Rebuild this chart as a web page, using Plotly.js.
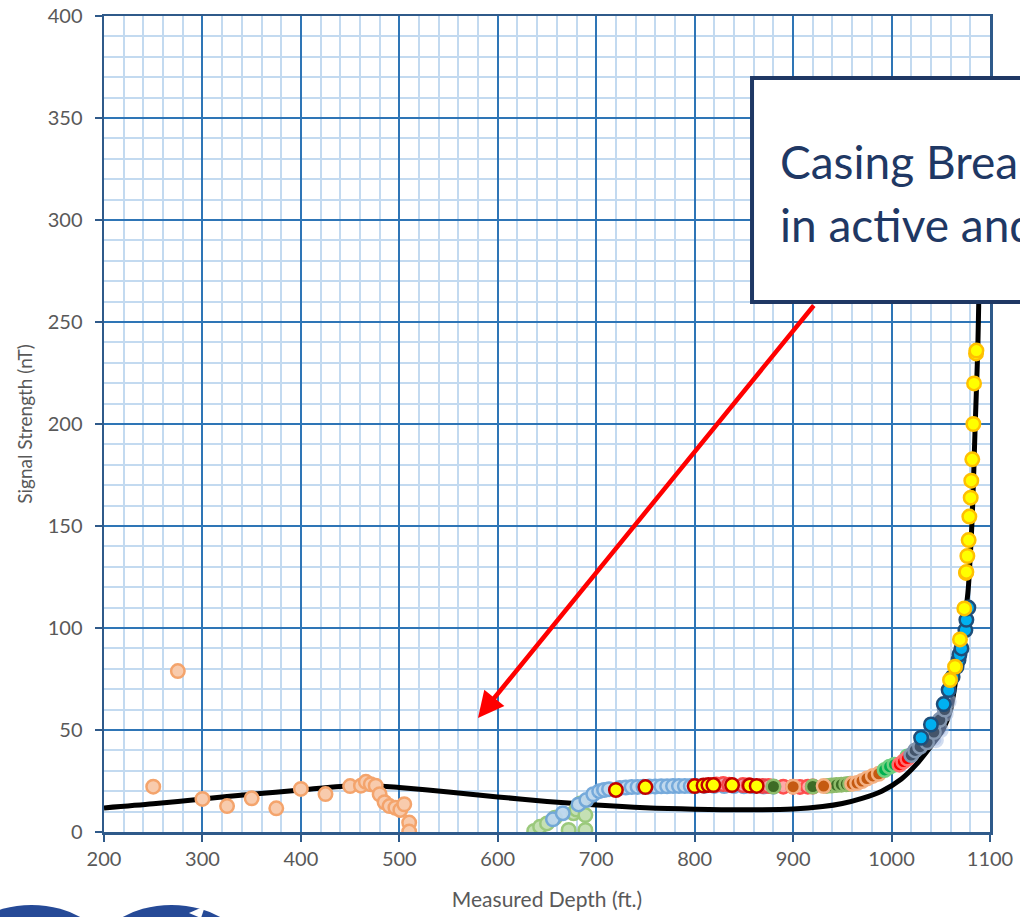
<!DOCTYPE html>
<html>
<head>
<meta charset="utf-8">
<script src="https://cdn.plot.ly/plotly-3.0.1.min.js"></script>
<style>html,body{margin:0;padding:0;background:#fff;}#chart{width:1020px;height:917px;}</style>
</head>
<body>
<div id="chart"></div>
<script>
// Fitted curve
const curveX = [200,250,300,350,400,440,470,500,550,600,650,700,750,800,850,900,930,950,970,990,1010,1025,1040,1052,1060,1068,1073,1077.5,1079,1082,1085,1087.5,1088.5,1090];
const curveY = [11.8,13.8,16.2,18.5,20.6,22.3,22.8,21.8,19.6,17.2,15,13.2,11.9,11.2,10.9,11.3,12.5,14,16.5,20,26,33,42,50,60,84,100,117,127,155,200,235,258,300];

// Measured series
const orangeX = [250,275,300,325,350,375,400,425,450,461,466,471,476,480,485,490,496,501,505,510,510];
const orangeY = [22.2,78.9,16.2,12.7,16.5,11.6,21.1,18.6,22.5,22.7,24.6,23.4,22.7,18.5,14.6,12.7,11.9,10.8,13.6,4.6,0.2];

const lightGreenX = [637,643,650,658,672,677,680,684,689,689];
const lightGreenY = [0.5,2.6,4.2,7,1,9.2,11,14,8.3,1];

const lightBlueX = [656,666,682,690,697,703,708,713,724,730,736,742,748,754,760,766,772,778,784,790,796,802,810,820,830,840,850,860,870,880];
const lightBlueY = [6.2,9.2,13.5,15.7,18.5,20,20.6,21,21.6,21.8,22,22.1,22.2,22.3,22.3,22.4,22.4,22.5,22.5,22.5,22.5,22.6,22.6,22.6,22.5,22.5,22.4,22.4,22.3,22.2];

const yellowRedX = [720,750,800,809,814,819,838,856,863];
const yellowRedY = [20.6,22,22.5,22.8,23,23,23,22.8,22.6];

const pinkX = [822,829,835,849,855,869,875,890,900,907,915,920];
const pinkY = [23.3,23.5,23.2,23,22.9,22.6,22.5,22.2,22.2,22.1,22.2,22.3];

const darkGreenX = [880,920,934,939,944,949,954,958];
const darkGreenY = [22.3,22.3,22.6,22.8,23,23.2,23.4,23.6];

const brownX = [900,931,960,965,970,975,981,987];
const brownY = [22.2,22.5,23.6,24,25,26.2,27.5,28.5];

const greenX = [993,998,1003,1016];
const greenY = [30.4,32,33,37];

const redX = [1008,1012,1016];
const redY = [33,34.5,36];

const fadedX = [1045,1050,1055,1058];
const fadedY = [45,50,58,64];

const slateX = [1020,1024,1029,1036,1043,1049,1054];
const slateY = [37.7,40,41.8,44,49,55,60];

const cyanX = [1030,1040,1053,1058,1062,1066,1068,1069,1071,1075,1076,1077,1078];
const cyanY = [46.2,52.7,62.7,69.6,76,81,84.3,87,90,99,104,109.6,110];

const yellowX = [1059.4,1064.5,1069.5,1073.9,1075.6,1076,1077,1078.3,1079,1080.4,1081,1082,1083.1,1083.8,1085.8,1086.2];
const yellowY = [74.5,81,94.4,109.6,127,127.5,135.3,143.1,154.6,163.9,172.2,182.7,200,219.9,234.6,236];

// Tick values
const xTicks = [200,300,400,500,600,700,800,900,1000,1100];
const yTicks = [0,50,100,150,200,250,300,350,400];
const xMinorStep = 20;
const yMinorStep = 10;

function pts(x, y, fill, line, opacity) {
  return {
    x: x, y: y, type: 'scatter', mode: 'markers', showlegend: false, hoverinfo: 'skip',
    opacity: opacity === undefined ? 1 : opacity,
    marker: {symbol: 'circle', size: 13.5, color: fill, line: {color: line, width: 2.5}}
  };
}

const traces = [
  {x: curveX, y: curveY, type: 'scatter', mode: 'lines', showlegend: false, hoverinfo: 'skip',
   line: {color: '#000000', width: 5, shape: 'spline', smoothing: 0.8}},
  pts(orangeX, orangeY, '#F8CBAD', '#F4A46C'),
  pts(lightGreenX, lightGreenY, '#C5E0B4', '#9BC97C'),
  pts(lightBlueX, lightBlueY, '#BDD7EE', '#6FA6DA', 0.95),
  pts(pinkX, pinkY, '#FF9999', '#FF3030', 0.85),
  pts(yellowRedX, yellowRedY, '#FFFF00', '#C00000'),
  pts(darkGreenX, darkGreenY, '#3D6B26', '#8FBC6B'),
  pts(brownX, brownY, '#C55A11', '#F4B183'),
  pts(greenX, greenY, '#00B050', '#70D080'),
  pts(redX, redY, '#FF0000', '#FF7070'),
  pts(fadedX, fadedY, '#8FAADC', '#B4C7E7', 0.6),
  pts(slateX, slateY, '#44546A', '#8497B0'),
  pts(cyanX, cyanY, '#00B0F0', '#1F4E79'),
  pts(yellowX, yellowY, '#FFFF00', '#FFC000')
];

const FONT = 'Lato, "Open Sans", sans-serif';
const axisFont = {family: FONT, size: 20, color: '#595959'};

const layout = {
  width: 1020, height: 917,
  margin: {l: 104, r: 30, t: 16, b: 85, pad: 0},
  paper_bgcolor: '#ffffff', plot_bgcolor: '#ffffff',
  font: {family: FONT, color: '#595959'},
  xaxis: {
    range: [xTicks[0], xTicks[xTicks.length - 1]], tickmode: 'linear', tick0: xTicks[0], dtick: xTicks[1] - xTicks[0],
    showgrid: true, gridcolor: '#2E75B6', gridwidth: 2,
    minor: {tickmode: 'linear', tick0: xTicks[0], dtick: xMinorStep, showgrid: true, gridcolor: '#C3DAF0', gridwidth: 2},
    showline: true, linecolor: '#2F5A8A', linewidth: 2.5, mirror: true,
    ticks: 'outside', ticklen: 7, tickwidth: 2, tickcolor: '#2F5A8A',
    tickfont: axisFont, zeroline: false, fixedrange: true,
    title: {text: 'Measured Depth (ft.)', font: {family: FONT, size: 21, color: '#595959'}, standoff: 24}
  },
  yaxis: {
    range: [yTicks[0], yTicks[yTicks.length - 1]], tickmode: 'linear', tick0: yTicks[0], dtick: yTicks[1] - yTicks[0],
    showgrid: true, gridcolor: '#2E75B6', gridwidth: 2,
    minor: {tickmode: 'linear', tick0: yTicks[0], dtick: yMinorStep, showgrid: true, gridcolor: '#C3DAF0', gridwidth: 2},
    showline: true, linecolor: '#2F5A8A', linewidth: 2.5, mirror: true,
    ticks: 'outside', ticklen: 7, tickwidth: 2, tickcolor: '#2F5A8A',
    tickfont: axisFont, zeroline: false, fixedrange: true, ticklabelstandoff: 8,
    title: {text: 'Signal Strength (nT)', font: {family: FONT, size: 19, color: '#595959'}, standoff: 10}
  },
  shapes: [
    {type: 'rect', xref: 'paper', yref: 'paper', x0: 0.7314, x1: 1.06, y0: 0.6495, y1: 0.924,
     fillcolor: '#FFFFFF', line: {color: '#1F3864', width: 4}, layer: 'above'},
    {type: 'circle', xref: 'paper', yref: 'paper', x0: -0.1665, x1: 0.0028, y0: -0.212, y1: -0.0895,
     fillcolor: '#264A97', line: {width: 0}, layer: 'above'},
    {type: 'circle', xref: 'paper', yref: 'paper', x0: -0.0085, x1: 0.1608, y0: -0.212, y1: -0.0895,
     fillcolor: '#264A97', line: {width: 0}, layer: 'above'},
    {type: 'path', xref: 'paper', yref: 'paper',
     path: 'M 0.0959 -0.0993 L 0.1140 -0.0907 L 0.1095 -0.1055 Z',
     fillcolor: '#FFFFFF', line: {width: 0}, layer: 'above'}
  ],
  annotations: [
    {xref: 'paper', yref: 'paper', x: 0.7607, y: 0.8223, xanchor: 'left', yanchor: 'middle',
     text: 'Casing Break', showarrow: false,
     font: {family: FONT, size: 46, color: '#1F3864'}},
    {xref: 'paper', yref: 'paper', x: 0.7607, y: 0.7439, xanchor: 'left', yanchor: 'middle',
     text: 'in active and', showarrow: false,
     font: {family: FONT, size: 46, color: '#1F3864'}},
    {xref: 'x', yref: 'y', x: 579.9, y: 55.9, text: '', showarrow: true,
     axref: 'pixel', ayref: 'pixel', ax: 337, ay: -414,
     arrowcolor: '#FF0000', arrowwidth: 4.5, arrowhead: 2, arrowsize: 1.15, standoff: 0}
  ]
};

Plotly.newPlot('chart', traces, layout, {staticPlot: true, displayModeBar: false});
</script>
</body>
</html>
